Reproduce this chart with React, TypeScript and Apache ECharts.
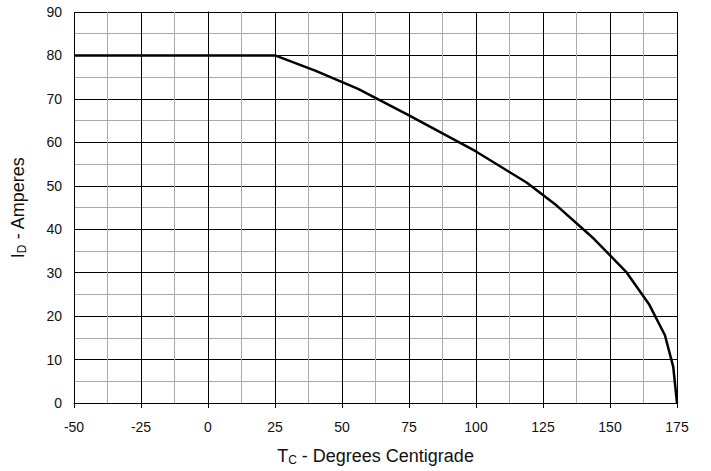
import React, { useEffect, useRef } from "react";
import * as echarts from "echarts";

const tempC = [-50, 25, 40, 56, 75, 100, 119, 130, 144, 156, 164.7, 170.5, 173.6, 175];
const currentA = [80, 80, 76.5, 72.3, 66.2, 57.9, 50.7, 45.5, 37.8, 30.2, 22.6, 15.6, 8.3, 0];

export default function App() {
  const ref = useRef<HTMLDivElement>(null);
  useEffect(() => {
    document.body.style.margin = "0";
    const chart = echarts.init(ref.current!, null, { renderer: "svg" });
    const font = "Liberation Sans, Arial, sans-serif";
    const rich = {
      a: { fontSize: 18, fontFamily: font, color: "#111" },
      s: { fontSize: 12, fontFamily: font, color: "#111", verticalAlign: "bottom", padding: [8, 0, 0, 0] },
    };
    chart.setOption({
      animation: false,
      grid: { left: 74, right: 34, top: 12, bottom: 63 },
      xAxis: {
        type: "value",
        min: -50,
        max: 175,
        interval: 25,
        name: "{a|T}{s|C}{a| - Degrees Centigrade}",
        nameLocation: "middle",
        nameGap: 43,
        nameTextStyle: { rich },
        axisLine: { onZero: false, lineStyle: { color: "#000", width: 1 } },
        axisTick: { show: true, length: 5, lineStyle: { color: "#000" } },
        axisLabel: { margin: 17, fontSize: 14, fontFamily: font, color: "#111" },
        splitLine: { show: true, lineStyle: { color: "#000", width: 1 } },
        minorTick: { show: false, splitNumber: 2 },
        minorSplitLine: { show: true, lineStyle: { color: "#aaa", width: 1 } },
      },
      yAxis: {
        type: "value",
        min: 0,
        max: 90,
        interval: 10,
        name: "{a|I}{s|D}{a| - Amperes}",
        nameLocation: "middle",
        nameGap: 46,
        nameTextStyle: { rich },
        axisLine: { show: true, lineStyle: { color: "#000", width: 1 } },
        axisTick: { show: true, length: 5, lineStyle: { color: "#000" } },
        axisLabel: { margin: 12, fontSize: 14, fontFamily: font, color: "#111" },
        splitLine: { show: true, lineStyle: { color: "#000", width: 1 } },
        minorTick: { show: false, splitNumber: 2 },
        minorSplitLine: { show: true, lineStyle: { color: "#aaa", width: 1 } },
      },
      series: [
        {
          type: "line",
          data: tempC.map((t, i) => [t, currentA[i]]),
          showSymbol: false,
          lineStyle: { color: "#000", width: 2.5 },
          clip: false,
        },
      ],
    });
    return () => chart.dispose();
  }, []);
  return <div ref={ref} style={{ width: 711, height: 471, background: "#fff" }} />;
}
